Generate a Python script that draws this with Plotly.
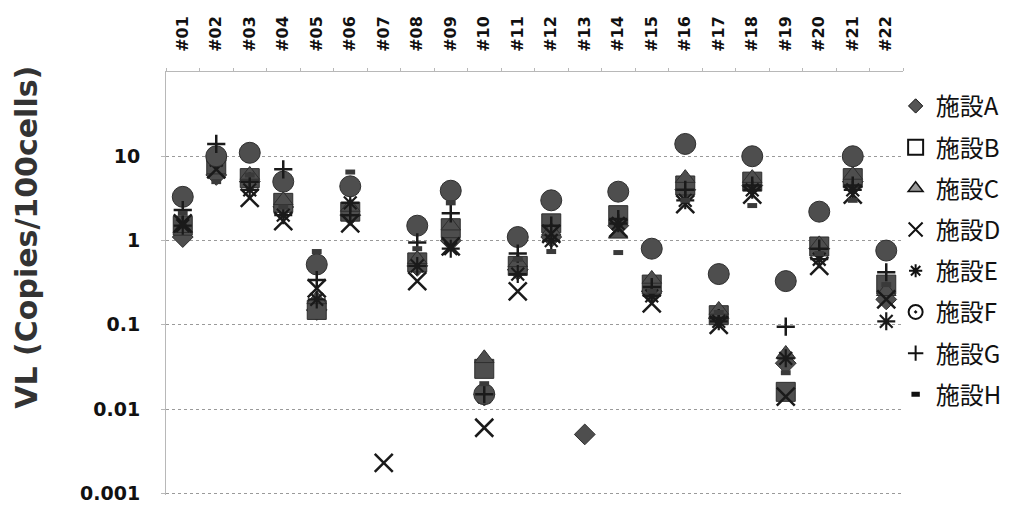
import plotly.graph_objects as go

categories = ["#%02d" % i for i in range(1, 23)]

fac_A = [1.1, 6, 5, 2.5, 0.15, 2, None, 0.5, 1.0, 0.015, 0.45, 1.1, 0.005, 1.5, 0.25, 4, 0.12, 4.5, 0.035, 0.8, 5, 0.2]
fac_B = [1.5, 8, 5.5, 2.8, 0.15, 2.2, None, 0.55, 1.4, 0.03, 0.5, 1.6, None, 2, 0.3, 4.5, 0.13, 5, 0.016, 0.85, 5.5, 0.3]
fac_C = [1.4, 10, 6, 3, 0.2, 2.5, None, 0.6, 1.5, 0.04, 0.55, 1.3, None, 1.2, 0.35, 5.5, 0.15, 5.5, 0.045, 0.9, 6, 0.25]
fac_D = [1.6, 7, 3.2, 1.7, 0.27, 1.6, 0.0023, 0.33, 0.85, 0.006, 0.25, 1.2, None, 1.4, 0.18, 2.7, 0.1, 3.5, 0.014, 0.5, 3.5, 0.2]
fac_E = [1.5, 9, 4, 2, 0.2, 2.8, None, 0.5, 0.8, 0.014, 0.4, 1.0, None, 1.6, 0.22, 3, 0.11, 4, 0.04, 0.6, 4, 0.11]
fac_F = [3.3, 10, 11, 5, 0.52, 4.4, None, 1.5, 3.9, 0.015, 1.1, 3.0, None, 3.8, 0.8, 14, 0.4, 10, 0.33, 2.2, 10, 0.76]
fac_G = [2.3, 14, 5, 7, 0.34, 2, None, 0.95, 2.1, 0.015, 0.7, 1.5, None, 1.8, 0.28, 4, 0.12, 4.5, 0.095, 0.8, 4.5, 0.42]
fac_H = [2.1, 5, 6, 2.5, 0.74, 6.5, None, 0.8, 2.8, 0.02, 0.6, 0.74, None, 0.72, 0.25, 3, 0.14, 2.6, 0.027, 0.7, 3.0, 0.3]

names = ["施設A", "施設B", "施設C", "施設D", "施設E", "施設F", "施設G", "施設H"]
series = [fac_A, fac_B, fac_C, fac_D, fac_E, fac_F, fac_G, fac_H]

y_tickvals = [0.001, 0.01, 0.1, 1, 10]
y_ticktext = ["0.001", "0.01", "0.1", "1", "10"]

FILL = "#4e4e4e"
EDGE = "#2e2e2e"

plot_style = [
    dict(symbol="diamond", size=16, color=FILL, line=dict(color=EDGE, width=1)),
    dict(symbol="square", size=19, color=FILL, line=dict(color=EDGE, width=1)),
    dict(symbol="triangle-up", size=17, color=FILL, line=dict(color=EDGE, width=1)),
    dict(symbol="x-thin", size=18, color=FILL, line=dict(color="#1a1a1a", width=2.5)),
    dict(symbol="asterisk", size=15, color=FILL, line=dict(color="#1a1a1a", width=2.2)),
    dict(symbol="circle", size=21, color=FILL, line=dict(color=EDGE, width=1)),
    dict(symbol="cross-thin", size=13, color=FILL, line=dict(color="#1a1a1a", width=2.5)),
    dict(symbol="line-ew", size=7, color=FILL, line=dict(color="#3a3a3a", width=5)),
]

legend_style = [
    dict(symbol="diamond", size=11, color="#555555", line=dict(color="#111", width=1)),
    dict(symbol="square-open", size=15, color="#111", line=dict(color="#111", width=2)),
    dict(symbol="triangle-up", size=13, color="#9a9a9a", line=dict(color="#111", width=1.5)),
    dict(symbol="x-thin", size=14, color="#111", line=dict(color="#111", width=2)),
    dict(symbol="asterisk", size=11, color="#111", line=dict(color="#111", width=2)),
    dict(symbol="circle-dot", size=14, color="white", line=dict(color="#111", width=2)),
    dict(symbol="cross-thin", size=11, color="#111", line=dict(color="#111", width=2)),
    dict(symbol="line-ew", size=6, color="#111", line=dict(color="#111", width=5)),
]

fig = go.Figure()
for i, (nm, vals) in enumerate(zip(names, series)):
    fig.add_trace(go.Scatter(
        x=categories, y=vals, mode="markers", name=nm,
        marker=plot_style[i], showlegend=False, legendgroup=nm,
        cliponaxis=False,
    ))
for i, nm in enumerate(names):
    fig.add_trace(go.Scatter(
        x=[None], y=[None], mode="markers", name=nm,
        marker=legend_style[i], showlegend=True, legendgroup=nm,
    ))

fig.update_layout(
    width=1013, height=507,
    margin=dict(l=166, r=110, t=72, b=12, autoexpand=False),
    paper_bgcolor="white", plot_bgcolor="white",
    showlegend=True,
    legend=dict(
        x=0.99, xanchor="left", y=0.972, yanchor="top",
        font=dict(family="Noto Sans CJK JP", size=24, color="#111"),
        tracegroupgap=7, itemsizing="trace",
        bgcolor="rgba(0,0,0,0)",
    ),
    xaxis=dict(
        type="category", side="top", categoryorder="array", categoryarray=categories,
        range=[-0.5, 21.5], automargin=False,
        showgrid=False, showline=True, linecolor="#b8b8b8", linewidth=1,
        ticks="outside", ticklen=3, tickcolor="#b8b8b8", tickson="boundaries",
        tickangle=-90,
        tickfont=dict(family="DejaVu Sans", size=16, color="#111", weight="bold"),
        ticklabelstandoff=16,
        zeroline=False,
    ),
    yaxis=dict(
        type="log", range=[-3.02, 2], automargin=False,
        tickvals=y_tickvals, ticktext=y_ticktext,
        showgrid=True, gridcolor="#9a9a9a", griddash="dot", gridwidth=1,
        showline=True, linecolor="#b8b8b8", linewidth=1,
        ticks="outside", ticklen=4, tickcolor="#b8b8b8",
        tickfont=dict(family="DejaVu Sans", size=19, color="#111", weight="bold"),
        ticklabelstandoff=17,
        zeroline=False,
    ),
    annotations=[dict(
        text="VL (Copies/100cells)", xref="paper", yref="paper",
        x=-0.189, y=0.61, xanchor="center", yanchor="middle",
        textangle=-90, showarrow=False,
        font=dict(family="DejaVu Sans", size=30, color="#333333", weight="bold"),
    )],
)

fig.write_html("out.html")
